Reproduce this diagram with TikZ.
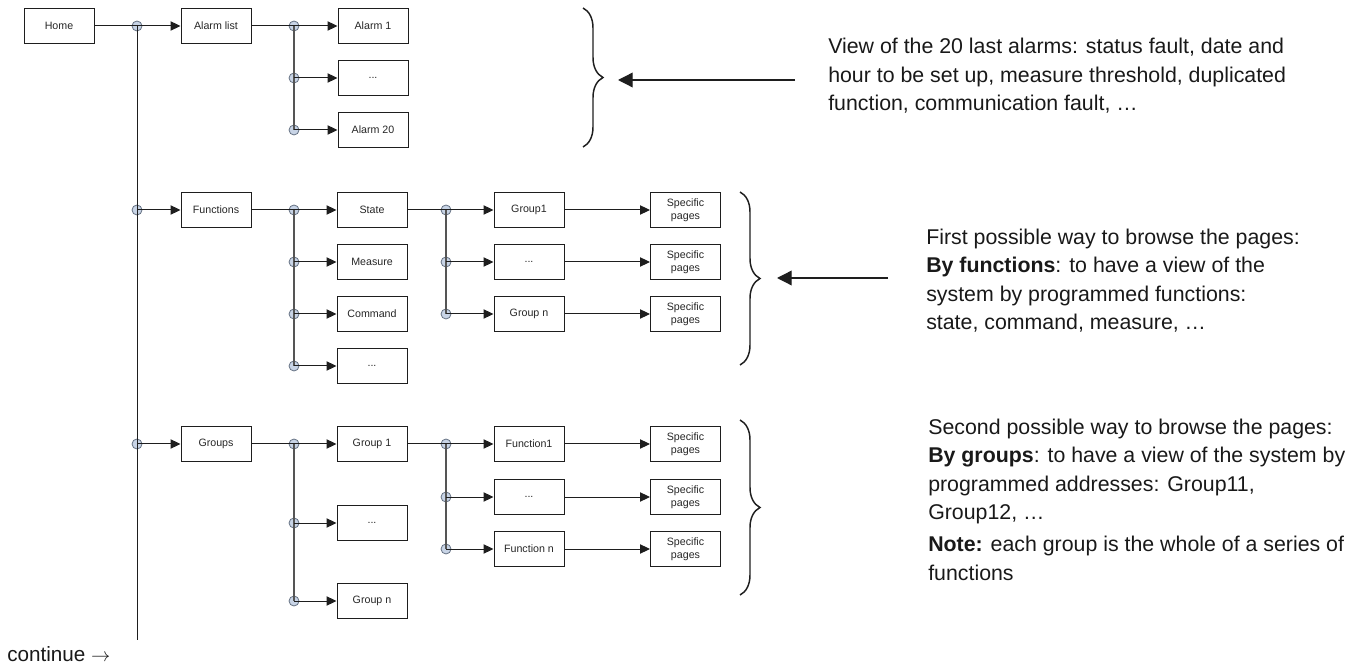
\documentclass[tikz,border=0pt]{standalone}
\usepackage{fontspec}
\setmainfont{Liberation Sans}
\usetikzlibrary{arrows.meta,decorations.pathreplacing}
\definecolor{juncfill}{RGB}{200,212,230}
\definecolor{juncdraw}{RGB}{100,112,130}
\definecolor{linecol}{RGB}{30,30,30}
\definecolor{branchcol}{RGB}{85,85,85}
\begin{document}
\begin{tikzpicture}[x=0.75pt,y=-0.75pt,
  box/.style={draw=linecol,line width=0.75pt,minimum width=52.5pt,minimum height=26.25pt,inner sep=0pt,align=center,font=\fontsize{8}{9.5}\selectfont,text=black!85},
  junc/.style={circle,draw=juncdraw,fill=juncfill,line width=0.6pt,minimum size=7.5pt,inner sep=0pt},
  conn/.style={draw=linecol,line width=0.75pt},
  arr/.style={conn,-{Triangle[length=7.5pt,width=7pt]}},
  branch/.style={draw=branchcol,line width=0.9pt},
  bigarr/.style={draw=linecol,line width=1pt,-{Triangle[length=11pt,width=11pt]}},
  bracestyle/.style={draw=linecol,line width=1.1pt,decorate,decoration={brace,amplitude=15pt}},
  note/.style={anchor=base west,inner sep=0pt,align=left,font=\fontsize{16}{21.4}\selectfont,text=black!90}
]
\useasboundingbox (0,0) rectangle (1353,666);

% junctions (drawn first, lines on top)
\node[junc] (j0) at (137,26) {};
\node[junc] (jf) at (137,210) {};
\node[junc] (jg) at (137,444) {};
\node[junc] (ja1) at (294,26) {};
\node[junc] (ja2) at (294,78) {};
\node[junc] (ja3) at (294,130) {};
\node[junc] (jb1) at (294,210) {};
\node[junc] (jb2) at (294,262) {};
\node[junc] (jb3) at (294,314) {};
\node[junc] (jb4) at (294,366) {};
\node[junc] (jc1) at (446,210) {};
\node[junc] (jc2) at (446,262) {};
\node[junc] (jc3) at (446,314) {};
\node[junc] (jd1) at (294,444) {};
\node[junc] (jd2) at (294,523) {};
\node[junc] (jd3) at (294,601) {};
\node[junc] (je1) at (446,444) {};
\node[junc] (je2) at (446,497) {};
\node[junc] (je3) at (446,549) {};
\coordinate (mainend) at (137,640);

% boxes
\node[box] (home) at (59,26) {Home};
\node[box] (alarmlist) at (216,26) {Alarm list};
\node[box] (alarm1) at (373,26) {Alarm 1};
\node[box] (alarmdots) at (373,78) {...};
\node[box] (alarm20) at (373,130) {Alarm 20};

\node[box] (functions) at (216,210) {Functions};
\node[box] (state) at (372,210) {State};
\node[box] (measure) at (372,262) {Measure};
\node[box] (command) at (372,314) {Command};
\node[box] (fdots) at (372,366) {...};
\node[box] (group1) at (529,210) {Group1};
\node[box] (gdots) at (529,262) {...};
\node[box] (groupn) at (529,314) {Group n};
\node[box] (sp1) at (685.5,210) {Specific\\pages};
\node[box] (sp2) at (685.5,262) {Specific\\pages};
\node[box] (sp3) at (685.5,314) {Specific\\pages};

\node[box] (groups) at (216,444) {Groups};
\node[box] (grp1) at (372,444) {Group 1};
\node[box] (grpdots) at (372,523) {...};
\node[box] (grpn) at (372,601) {Group n};
\node[box] (func1) at (529,444) {Function1};
\node[box] (funcdots) at (529,497) {...};
\node[box] (funcn) at (529,549) {Function n};
\node[box] (sp4) at (685.5,444) {Specific\\pages};
\node[box] (sp5) at (685.5,497) {Specific\\pages};
\node[box] (sp6) at (685.5,549) {Specific\\pages};

% main trunk
\draw[conn] (home.east) -- (j0.center);
\draw[conn] (j0.center) -- (mainend);
\draw[arr] (j0.center) -- (alarmlist.west);
\draw[arr] (jf.center) -- (functions.west);
\draw[arr] (jg.center) -- (groups.west);

% alarm branch
\draw[conn] (alarmlist.east) -- (ja1.center);
\draw[branch] (ja1.center) -- (ja3.center);
\draw[arr] (ja1.center) -- (alarm1.west);
\draw[arr] (ja2.center) -- (alarmdots.west);
\draw[arr] (ja3.center) -- (alarm20.west);

% functions branch
\draw[conn] (functions.east) -- (jb1.center);
\draw[branch] (jb1.center) -- (jb4.center);
\draw[arr] (jb1.center) -- (state.west);
\draw[arr] (jb2.center) -- (measure.west);
\draw[arr] (jb3.center) -- (command.west);
\draw[arr] (jb4.center) -- (fdots.west);
\draw[conn] (state.east) -- (jc1.center);
\draw[branch] (jc1.center) -- (jc3.center);
\draw[arr] (jc1.center) -- (group1.west);
\draw[arr] (jc2.center) -- (gdots.west);
\draw[arr] (jc3.center) -- (groupn.west);
\draw[arr] (group1.east) -- (sp1.west);
\draw[arr] (gdots.east) -- (sp2.west);
\draw[arr] (groupn.east) -- (sp3.west);

% groups branch
\draw[conn] (groups.east) -- (jd1.center);
\draw[branch] (jd1.center) -- (jd3.center);
\draw[arr] (jd1.center) -- (grp1.west);
\draw[arr] (jd2.center) -- (grpdots.west);
\draw[arr] (jd3.center) -- (grpn.west);
\draw[conn] (grp1.east) -- (je1.center);
\draw[branch] (je1.center) -- (je3.center);
\draw[arr] (je1.center) -- (func1.west);
\draw[arr] (je2.center) -- (funcdots.west);
\draw[arr] (je3.center) -- (funcn.west);
\draw[arr] (func1.east) -- (sp4.west);
\draw[arr] (funcdots.east) -- (sp5.west);
\draw[arr] (funcn.east) -- (sp6.west);

% braces
\draw[bracestyle] (583,8) -- (583,147);
\draw[bracestyle] (740,192) -- (740,365);
\draw[bracestyle] (740,420) -- (740,595);

% annotation arrows
\coordinate (a1s) at (795,80);
\coordinate (a1e) at (618,80);
\coordinate (a2s) at (888,278);
\coordinate (a2e) at (777,278);
\draw[bigarr] (a1s) -- (a1e);
\draw[bigarr] (a2s) -- (a2e);

% texts (anchored at the baseline of their last line)
\node[note] (t1) at (828,111) {View of the 20 last alarms: status fault, date and\\hour to be set up, measure threshold, duplicated\\function, communication fault, \ldots};
\node[note] (t2) at (926,330) {First possible way to browse the pages:\\\textbf{By functions}: to have a view of the\\system by programmed functions:\\state, command, measure, \ldots};
\node[note] (t3) at (928,580) {Second possible way to browse the pages:\\\textbf{By groups}: to have a view of the system by\\programmed addresses: Group11,\\Group12, \ldots\\[2.5pt]\textbf{Note:} each group is the whole of a series of\\functions};
\node[anchor=base west,inner sep=0pt,font=\fontsize{15.5}{18}\selectfont,text=black!90] (cont) at (7,661) {continue $\rightarrow$};
\end{tikzpicture}
\end{document}
